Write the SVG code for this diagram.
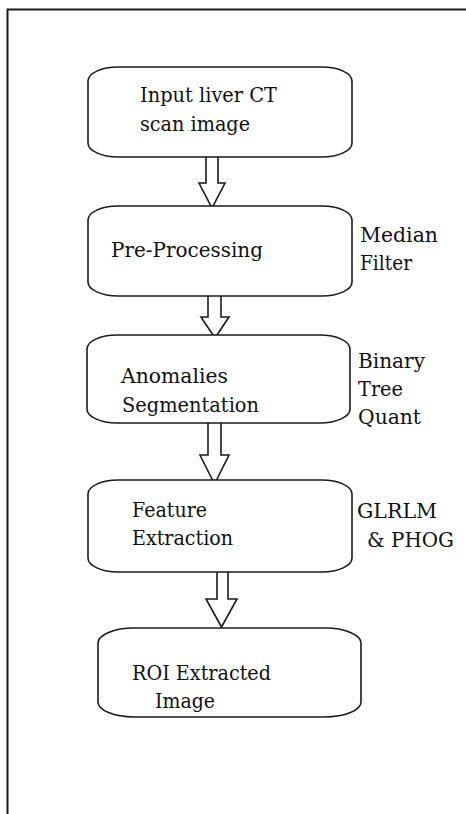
<svg xmlns="http://www.w3.org/2000/svg" width="466" height="814" viewBox="0 0 466 814">
<style>
.box{fill:#fff;stroke:#1a1a1a;stroke-width:1.6}
.arr{fill:#fff;stroke:#1a1a1a;stroke-width:1.6;stroke-linejoin:miter}
.t{font-family:'DejaVu Serif',serif;font-size:21px;fill:#111}
</style>
<rect width="466" height="814" fill="#fff"/>
<path d="M7.5,814 V9.5 H466" fill="none" stroke="#1a1a1a" stroke-width="2"/>
<g id="connectors">
<path class="arr" d="M206,157 V183 H199 L212,208 L225,183 H218 V157"/>
<path class="arr" d="M208,296 V317 H201 L215,338 L229,317 H221 V296"/>
<path class="arr" d="M208,423 V455 H200 L214.5,484 L229,455 H221 V423"/>
<path class="arr" d="M217,572 V599 H206 L221.5,627 L237,599 H228 V572"/>
</g>
<g id="n1">
<rect class="box" x="88" y="67" width="264" height="90" rx="30" ry="14"/>
<text class="t" x="140" y="102" textLength="137" lengthAdjust="spacingAndGlyphs">Input liver CT</text>
<text class="t" x="140" y="131" textLength="110" lengthAdjust="spacingAndGlyphs">scan image</text>
</g>
<g id="n2">
<rect class="box" x="88" y="206" width="264" height="90" rx="30" ry="14"/>
<text class="t" x="111" y="257" textLength="152" lengthAdjust="spacingAndGlyphs">Pre-Processing</text>
</g>
<g id="n2label">
<text class="t" x="360" y="242" textLength="78" lengthAdjust="spacingAndGlyphs">Median</text>
<text class="t" x="360" y="270" textLength="52" lengthAdjust="spacingAndGlyphs">Filter</text>
</g>
<g id="n3">
<rect class="box" x="87" y="335" width="263" height="88" rx="30" ry="14"/>
<text class="t" x="121" y="383" textLength="107" lengthAdjust="spacingAndGlyphs">Anomalies</text>
<text class="t" x="122" y="412" textLength="137" lengthAdjust="spacingAndGlyphs">Segmentation</text>
</g>
<g id="n3label">
<text class="t" x="358" y="368" textLength="67" lengthAdjust="spacingAndGlyphs">Binary</text>
<text class="t" x="358" y="396" textLength="45" lengthAdjust="spacingAndGlyphs">Tree</text>
<text class="t" x="358" y="424" textLength="63" lengthAdjust="spacingAndGlyphs">Quant</text>
</g>
<g id="n4">
<rect class="box" x="88" y="480" width="264" height="92" rx="30" ry="14"/>
<text class="t" x="132" y="517" textLength="75" lengthAdjust="spacingAndGlyphs">Feature</text>
<text class="t" x="132" y="545" textLength="101" lengthAdjust="spacingAndGlyphs">Extraction</text>
</g>
<g id="n4label">
<text class="t" x="357" y="518" textLength="80" lengthAdjust="spacingAndGlyphs">GLRLM</text>
<text class="t" x="367" y="547" textLength="87" lengthAdjust="spacingAndGlyphs">&amp; PHOG</text>
</g>
<g id="n5">
<rect class="box" x="98" y="628" width="263" height="89" rx="36" ry="15"/>
<text class="t" x="132" y="680" textLength="139" lengthAdjust="spacingAndGlyphs">ROI Extracted</text>
<text class="t" x="155" y="708" textLength="60" lengthAdjust="spacingAndGlyphs">Image</text>
</g>
</svg>
